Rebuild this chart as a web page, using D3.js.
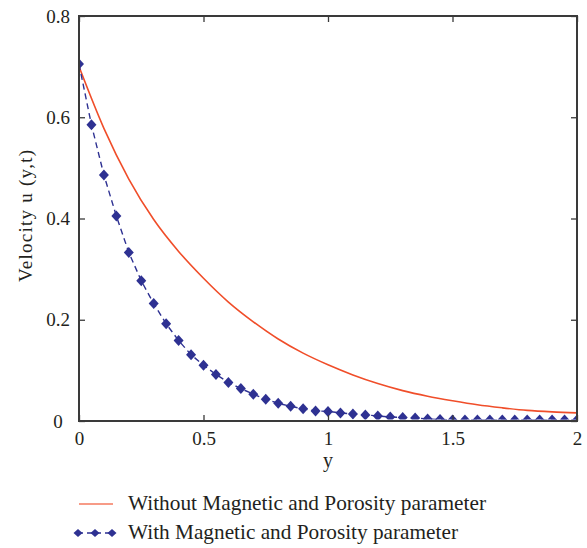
<!DOCTYPE html>
<html><head><meta charset="utf-8">
<script src="https://cdn.jsdelivr.net/npm/d3@7/dist/d3.min.js"></script>
<style>body{margin:0;background:#fff}svg{display:block}svg text{font-family:"Liberation Serif","Tinos","DejaVu Serif",serif !important;fill:#231f20}</style>
</head><body><svg id="c" width="587" height="548"></svg>
<script>
const redX = [0,0.1,0.2,0.3,0.4,0.5,0.6,0.7,0.8,0.9,1.0,1.1,1.2,1.3,1.4,1.5,1.6,1.7,1.8,1.9,2.0];
const redY = [0.700,0.578,0.478,0.398,0.335,0.282,0.235,0.196,0.162,0.134,0.111,0.091,0.074,0.060,0.049,0.040,0.032,0.026,0.021,0.018,0.016];
const blueX = d3.range(41).map(i => i/20);
const blueY = [0.705,0.585,0.486,0.405,0.333,0.277,0.232,0.192,0.159,0.131,0.110,0.092,0.076,0.064,0.053,0.043,0.035,0.029,0.024,0.020,0.019,0.016,0.014,0.012,0.010,0.008,0.007,0.006,0.004,0.003,0.002,0.002,0.002,0.002,0.002,0.002,0.002,0.002,0.002,0.002,0.002];
const xTicks = [0,0.5,1,1.5,2];
const xTickLabels = ["0","0.5","1","1.5","2"];
const yTicks = [0,0.2,0.4,0.6,0.8];
const yTickLabels = ["0","0.2","0.4","0.6","0.8"];
const legendLabels = ["Without Magnetic and Porosity parameter","With Magnetic and Porosity parameter"];
const redColor = "#f04e2a", blueColor = "#2e3192", axisColor = "#3a3a3a";

const svg = d3.select("#c");
const L=79, R=577, T=16, B=421;
const x = d3.scaleLinear().domain([0,2]).range([L,R]);
const y = d3.scaleLinear().domain([0,0.8]).range([B,T]);

svg.append("clipPath").attr("id","clip").append("rect").attr("x",L).attr("y",T).attr("width",R-L).attr("height",B-T-1.5);

const g = svg.append("g").attr("clip-path","url(#clip)");
const line = d3.line().x(d=>x(d[0])).y(d=>y(d[1])).curve(d3.curveMonotoneX);
g.append("path").datum(redX.map((v,i)=>[v,redY[i]])).attr("d",line)
  .attr("fill","none").attr("stroke",redColor).attr("stroke-width",1.6);
const bl = d3.line().x(d=>x(d[0])).y(d=>y(d[1]));
g.append("path").datum(blueX.map((v,i)=>[v,blueY[i]])).attr("d",bl)
  .attr("fill","none").attr("stroke",blueColor).attr("stroke-width",1.4).attr("stroke-dasharray","6,4");
const dia = (cx,cy,w,h)=>`M${cx},${cy-h}L${cx+w},${cy}L${cx},${cy+h}L${cx-w},${cy}Z`;
g.selectAll(".d").data(blueX.map((v,i)=>[v,blueY[i]])).enter().append("path")
  .attr("d",d=>dia(x(d[0]),y(d[1]),5,5.5)).attr("fill",blueColor);

// axes
const ax = svg.append("g");
const tl = 6;
const styleTicks = s=>{s.select(".domain").remove();s.selectAll("line").attr("stroke",axisColor).attr("stroke-width",1.3);s.selectAll("text").attr("font-size",19).attr("fill","#231f20");};
ax.append("g").attr("transform",`translate(0,${B})`).call(d3.axisBottom(x).tickValues(xTicks).tickSize(-tl).tickFormat((d,i)=>xTickLabels[i]).tickPadding(11)).call(styleTicks);
ax.append("g").attr("transform",`translate(0,${T})`).call(d3.axisTop(x).tickValues(xTicks).tickSize(-tl).tickFormat("")).call(styleTicks);
ax.append("g").attr("transform",`translate(${L},0)`).call(d3.axisLeft(y).tickValues(yTicks).tickSize(-tl).tickFormat((d,i)=>yTickLabels[i]).tickPadding(21)).call(styleTicks)
  .call(s=>s.selectAll("text").attr("text-anchor","middle"));
ax.append("g").attr("transform",`translate(${R},0)`).call(d3.axisRight(y).tickValues(yTicks).tickSize(-tl).tickFormat("")).call(styleTicks);
svg.append("rect").attr("x",L).attr("y",T).attr("width",R-L).attr("height",B-T)
  .attr("fill","none").attr("stroke",axisColor).attr("stroke-width",2);

svg.append("text").attr("x",(L+R)/2).attr("y",467).attr("text-anchor","middle").attr("font-size",20).text("y");
svg.append("text").attr("transform","translate(32,216) rotate(-90)").attr("text-anchor","middle").attr("font-size",19)
  .attr("textLength",132).attr("lengthAdjust","spacing").text("Velocity u (y,t)");

// legend
svg.append("line").attr("x1",79).attr("x2",113).attr("y1",504).attr("y2",504).attr("stroke",redColor).attr("stroke-opacity",0.75).attr("stroke-width",1.6);
svg.append("text").attr("x",128).attr("y",510).attr("font-size",21).attr("textLength",358).attr("lengthAdjust","spacingAndGlyphs").text(legendLabels[0]);
svg.append("line").attr("x1",78).attr("x2",112).attr("y1",533).attr("y2",533).attr("stroke",blueColor).attr("stroke-width",1.4).attr("stroke-dasharray","5,4");
[78,95,112].forEach(cx=>svg.append("path").attr("d",dia(cx,533,4.5,4)).attr("fill",blueColor));
svg.append("text").attr("x",128).attr("y",539).attr("font-size",21).attr("textLength",330).attr("lengthAdjust","spacingAndGlyphs").text(legendLabels[1]);
</script></body></html>
